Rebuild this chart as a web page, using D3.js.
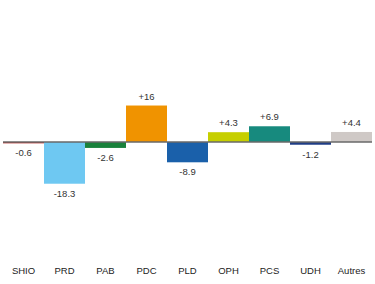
<!DOCTYPE html>
<html>
<head>
<meta charset="utf-8">
<script src="https://cdn.jsdelivr.net/npm/d3@7"></script>
<style>
    body { margin: 0; background: #fff; }
    svg { display: block; font-family: "Liberation Sans", Arial, sans-serif; }
</style>
</head>
<body>
<div id="chart"></div>
<script>
// party vote change, in points
const parties = ["SHIO", "PRD", "PAB", "PDC", "PLD", "OPH", "PCS", "UDH", "Autres"];
const changes = [-0.6, -18.3, -2.6, 16, -8.9, 4.3, 6.9, -1.2, 4.4];
const labels = ["-0.6", "-18.3", "-2.6", "+16", "-8.9", "+4.3", "+6.9", "-1.2", "+4.4"];
const colors = ["#b5322e", "#6ec8f2", "#19813c", "#f09300", "#1a60aa", "#c6cf00", "#178a7e", "#1f3c86", "#cfc9c6"];

const width = 375;
const height = 284;

const svg = d3.select("#chart")
    .append("svg")
    .attr("width", width)
    .attr("height", height);

const x = d3.scaleBand()
    .domain(parties)
    .range([3, 372])
    .padding(0);

// baseline sits at y=142, about 2.28px per point
const y = d3.scaleLinear()
    .domain([-20, 20])
    .range([142 + 20 * 2.28, 142 - 20 * 2.28]);

const data = parties.map((p, i) => ({ party: p, value: changes[i], label: labels[i], color: colors[i] }));

svg.selectAll("rect.bar")
    .data(data)
    .enter()
    .append("rect")
    .attr("class", "bar")
    .attr("x", d => x(d.party))
    .attr("width", x.bandwidth())
    .attr("y", d => Math.min(y(d.value), y(0)))
    .attr("height", d => Math.abs(y(d.value) - y(0)))
    .attr("fill", d => d.color);

svg.append("line")
    .attr("x1", 3)
    .attr("x2", 372)
    .attr("y1", y(0))
    .attr("y2", y(0))
    .attr("stroke", "#686868")
    .attr("stroke-width", 1.3);

svg.selectAll("text.value")
    .data(data)
    .enter()
    .append("text")
    .attr("class", "value")
    .attr("x", d => x(d.party) + x.bandwidth() / 2)
    .attr("y", d => d.value >= 0 ? y(d.value) - 6 : y(d.value) + 13)
    .attr("text-anchor", "middle")
    .attr("font-size", 9.5)
    .attr("fill", "#333")
    .text(d => d.label);

svg.selectAll("text.cat")
    .data(data)
    .enter()
    .append("text")
    .attr("class", "cat")
    .attr("x", d => x(d.party) + x.bandwidth() / 2)
    .attr("y", 273.5)
    .attr("text-anchor", "middle")
    .attr("font-size", 9.5)
    .attr("fill", "#222")
    .text(d => d.party);
</script>
</body>
</html>
